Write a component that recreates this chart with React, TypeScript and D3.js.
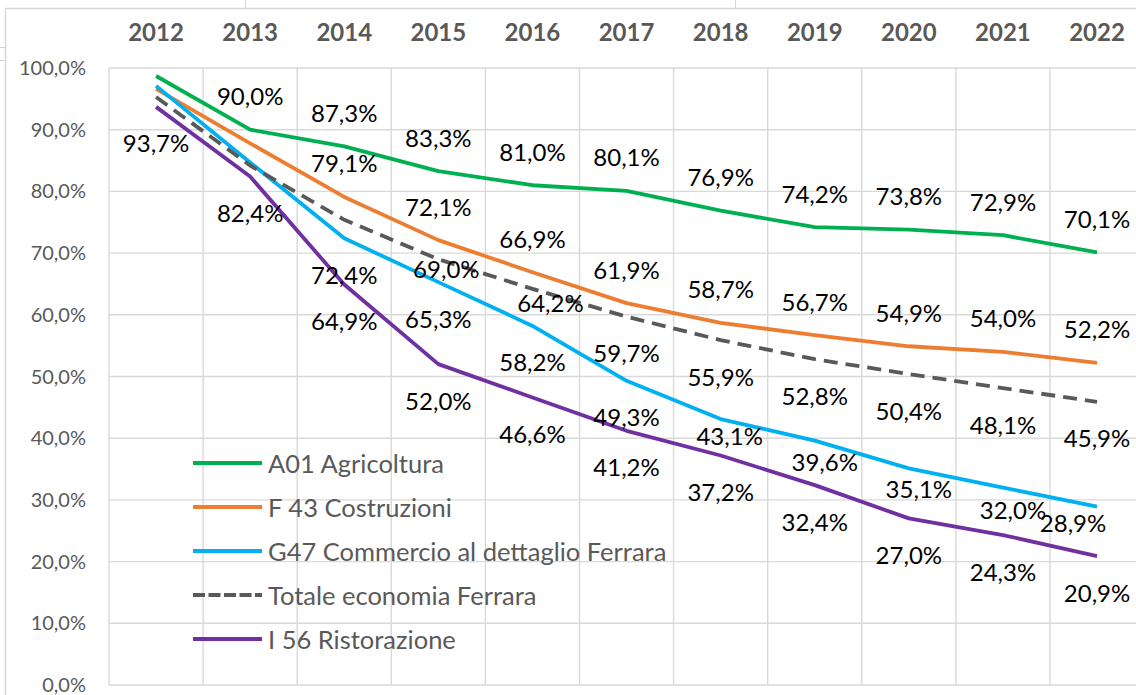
import * as d3 from "d3";

const years = ["2012", "2013", "2014", "2015", "2016", "2017", "2018", "2019", "2020", "2021", "2022"];
const agricoltura = [98.7, 90.0, 87.3, 83.3, 81.0, 80.1, 76.9, 74.2, 73.8, 72.9, 70.1];
const costruzioni = [96.6, 87.8, 79.1, 72.1, 66.9, 61.9, 58.7, 56.7, 54.9, 54.0, 52.2];
const commercio = [97.1, 84.7, 72.4, 65.3, 58.2, 49.3, 43.1, 39.6, 35.1, 32.0, 28.9];
const totale = [95.3, 84.2, 75.4, 69.0, 64.2, 59.7, 55.9, 52.8, 50.4, 48.1, 45.9];
const ristorazione = [93.7, 82.4, 64.9, 52.0, 46.6, 41.2, 37.2, 32.4, 27.0, 24.3, 20.9];
const yTicks = [0, 10, 20, 30, 40, 50, 60, 70, 80, 90, 100];

// which years carry no data label (index into years)
const noLabel = {
  A01: [0],
  F43: [0, 1],
  G47: [0, 1],
  TOT: [0, 1, 2],
  I56: [],
};

// hand-moved labels in the original: [dx, dy] from the point
const labelMoves = {
  "TOT-3": [8, 9],
  "TOT-4": [18, 14],
  "G47-6": [9, 16],
  "G47-7": [10, 21],
  "G47-8": [10, 20],
  "G47-9": [10, 22],
  "G47-10": [-24, 16],
};

const series = [
  { key: "A01", name: "A01 Agricoltura", values: agricoltura, color: "#00B050", dash: null, above: true },
  { key: "F43", name: "F 43 Costruzioni", values: costruzioni, color: "#ED7D31", dash: null, above: true },
  { key: "G47", name: "G47 Commercio al dettaglio Ferrara", values: commercio, color: "#00B0F0", dash: null, above: false },
  { key: "TOT", name: "Totale economia Ferrara", values: totale, color: "#595959", dash: "14 8", above: false },
  { key: "I56", name: "I 56 Ristorazione", values: ristorazione, color: "#7030A0", dash: null, above: false },
];

const W = 1136;
const H = 695;
const font = "Lato, 'Open Sans', sans-serif";
const grid = "#d9d9d9";
const axisText = "#595959";

const fmt = (v: number) => v.toFixed(1).replace(".", ",") + "%";

export default function App() {
  const x = d3.scaleBand<string>().domain(years).range([109, 109 + 11 * 94.1]);
  const y = d3.scaleLinear().domain([0, 100]).range([685, 68]);
  const cx = (i: number) => (x(years[i]) as number) + x.bandwidth() / 2;

  const line = d3
    .line<number>()
    .x((_, i) => cx(i))
    .y((d) => y(d));

  const legendY = d3.scalePoint<string>().domain(series.map((s) => s.key)).range([463, 639]);

  return (
    <svg
      width={W}
      height={H}
      style={{ position: "absolute", left: 0, top: 0, background: "#fff" }}
      fontFamily={font}
    >
      {/* spreadsheet cell lines around the chart */}
      <line x1={245.5} x2={245.5} y1={0} y2={8} stroke="#d4d4d4" />
      <line x1={735.5} x2={735.5} y1={0} y2={8} stroke="#d4d4d4" />
      <line x1={0} x2={5} y1={47.5} y2={47.5} stroke="#d4d4d4" />
      <line x1={0} x2={5} y1={60.5} y2={60.5} stroke="#d4d4d4" />
      {/* chart frame */}
      <line x1={5} x2={W} y1={8.5} y2={8.5} stroke="#d9d9d9" strokeWidth={1.5} />
      <line x1={5.5} x2={5.5} y1={8} y2={H} stroke="#d9d9d9" strokeWidth={1.5} />

      {/* gridlines */}
      <g stroke={grid} strokeWidth={1.4}>
        {yTicks.map((t) => (
          <line key={t} x1={109} x2={1144} y1={y(t)} y2={y(t)} />
        ))}
        {years.map((yr) => (
          <line key={yr} x1={x(yr)} x2={x(yr)} y1={y(100)} y2={y(0)} />
        ))}
        <line x1={1144} x2={1144} y1={y(100)} y2={y(0)} />
      </g>

      {/* y axis labels */}
      <g fill={axisText} fontSize={20} textAnchor="end">
        {yTicks.map((t) => (
          <text key={t} x={86} y={y(t) - 1} dominantBaseline="central">
            {t.toFixed(1).replace(".", ",") + "%"}
          </text>
        ))}
      </g>

      {/* category labels at top */}
      <g fill={axisText} fontSize={24} fontWeight="bold" textAnchor="middle">
        {years.map((yr, i) => (
          <text key={yr} x={cx(i)} y={31} dominantBaseline="central">
            {yr}
          </text>
        ))}
      </g>

      {/* series lines */}
      {series.map((s) => (
        <path
          key={s.key}
          d={line(s.values) as string}
          fill="none"
          stroke={s.color}
          strokeWidth={3.8}
          strokeLinejoin="round"
          strokeDasharray={s.dash ?? undefined}
        />
      ))}

      {/* data labels */}
      <g fill="#000" fontSize={24} textAnchor="middle">
        {series.map((s) =>
          s.values.map((v, i) => {
            if ((noLabel as any)[s.key].includes(i)) return null;
            const mv = (labelMoves as any)[`${s.key}-${i}`];
            const dx = mv ? mv[0] : 0;
            const dy = mv ? mv[1] : s.above ? -34 : 36;
            return (
              <text key={s.key + i} x={cx(i) + dx} y={y(v) + dy} dominantBaseline="central">
                {fmt(v)}
              </text>
            );
          })
        )}
      </g>

      {/* legend */}
      <g fontSize={25.5} fill={axisText}>
        {series.map((s) => {
          const ly = legendY(s.key) as number;
          return (
            <g key={s.key}>
              <line
                x1={193}
                x2={262}
                y1={ly}
                y2={ly}
                stroke={s.color}
                strokeWidth={4}
                strokeDasharray={s.dash ? "12 3.5" : undefined}
              />
              <text x={268} y={ly} dominantBaseline="central">
                {s.name}
              </text>
            </g>
          );
        })}
      </g>
    </svg>
  );
}
